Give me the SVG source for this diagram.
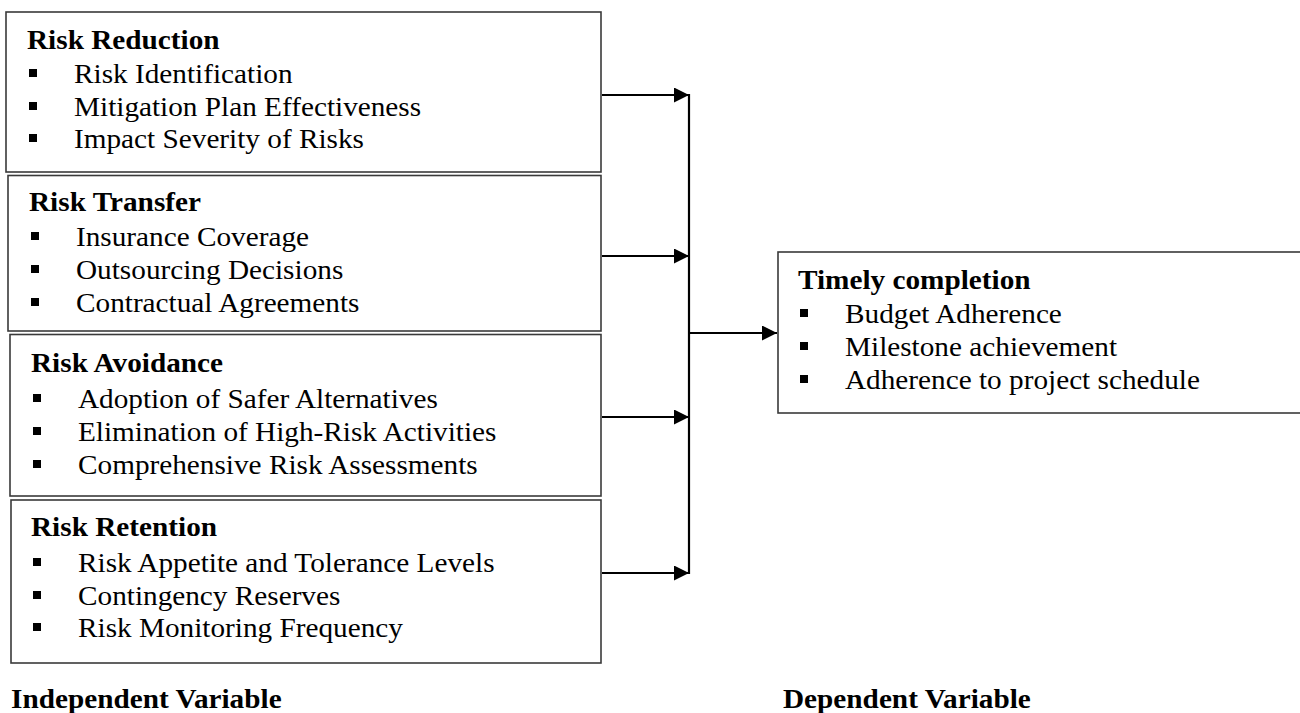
<svg xmlns="http://www.w3.org/2000/svg" width="1300" height="713" viewBox="0 0 1300 713">
<style>
.box{fill:#fff;stroke:#3a3a3a;stroke-width:1.6}
.t{font-family:"Liberation Serif","Times New Roman",serif;font-size:28px;fill:#000}
.b{font-weight:bold}
.sq{fill:#000}
.c{stroke:#000;stroke-width:2.2;fill:none}
</style>
<defs>
<marker id="ah" markerUnits="userSpaceOnUse" markerWidth="16" markerHeight="16" refX="15" refY="7.5" orient="auto">
<path d="M0,0 L15,7.5 L0,15 z" fill="#000"/>
</marker>
</defs>
<rect width="1300" height="713" fill="#fff"/>
<g id="connectors">
<line class="c" x1="602" y1="95" x2="689" y2="95" marker-end="url(#ah)"/>
<line class="c" x1="602" y1="256" x2="689" y2="256" marker-end="url(#ah)"/>
<line class="c" x1="602" y1="417" x2="689" y2="417" marker-end="url(#ah)"/>
<line class="c" x1="602" y1="573" x2="689" y2="573" marker-end="url(#ah)"/>
<line class="c" x1="689" y1="94" x2="689" y2="574"/>
<line class="c" x1="689" y1="333" x2="777" y2="333" marker-end="url(#ah)"/>
</g>
<g id="risk-reduction">
<rect class="box" x="6" y="12" width="595" height="160"/>
<text class="t b" transform="translate(27,49) scale(1.045,1)">Risk Reduction</text>
<rect class="sq" x="29" y="69" width="8" height="8"/>
<rect class="sq" x="29" y="102" width="8" height="8"/>
<rect class="sq" x="29" y="134" width="8" height="8"/>
<text class="t" transform="translate(74,83) scale(1.045,1)">Risk Identification</text>
<text class="t" transform="translate(74,116) scale(1.045,1)">Mitigation Plan Effectiveness</text>
<text class="t" transform="translate(74,148) scale(1.045,1)">Impact Severity of Risks</text>
</g>
<g id="risk-transfer">
<rect class="box" x="8" y="175.5" width="593" height="155.5"/>
<text class="t b" transform="translate(29,211) scale(1.045,1)">Risk Transfer</text>
<rect class="sq" x="31" y="232" width="8" height="8"/>
<rect class="sq" x="31" y="265" width="8" height="8"/>
<rect class="sq" x="31" y="298" width="8" height="8"/>
<text class="t" transform="translate(76,246) scale(1.045,1)">Insurance Coverage</text>
<text class="t" transform="translate(76,279) scale(1.045,1)">Outsourcing Decisions</text>
<text class="t" transform="translate(76,312) scale(1.045,1)">Contractual Agreements</text>
</g>
<g id="risk-avoidance">
<rect class="box" x="10" y="334.5" width="591" height="161.5"/>
<text class="t b" transform="translate(31,372) scale(1.045,1)">Risk Avoidance</text>
<rect class="sq" x="33" y="394" width="8" height="8"/>
<rect class="sq" x="33" y="427" width="8" height="8"/>
<rect class="sq" x="33" y="460" width="8" height="8"/>
<text class="t" transform="translate(78,408) scale(1.045,1)">Adoption of Safer Alternatives</text>
<text class="t" transform="translate(78,441) scale(1.045,1)">Elimination of High-Risk Activities</text>
<text class="t" transform="translate(78,474) scale(1.045,1)">Comprehensive Risk Assessments</text>
</g>
<g id="risk-retention">
<rect class="box" x="11" y="500" width="590" height="163"/>
<text class="t b" transform="translate(31,536) scale(1.045,1)">Risk Retention</text>
<rect class="sq" x="33" y="558" width="8" height="8"/>
<rect class="sq" x="33" y="591" width="8" height="8"/>
<rect class="sq" x="33" y="623" width="8" height="8"/>
<text class="t" transform="translate(78,572) scale(1.045,1)">Risk Appetite and Tolerance Levels</text>
<text class="t" transform="translate(78,605) scale(1.045,1)">Contingency Reserves</text>
<text class="t" transform="translate(78,637) scale(1.045,1)">Risk Monitoring Frequency</text>
</g>
<g id="timely-completion">
<rect class="box" x="778" y="252" width="530" height="161"/>
<text class="t b" transform="translate(798,289) scale(1.045,1)">Timely completion</text>
<rect class="sq" x="800" y="309" width="8" height="8"/>
<rect class="sq" x="800" y="342" width="8" height="8"/>
<rect class="sq" x="800" y="375" width="8" height="8"/>
<text class="t" transform="translate(845,323) scale(1.045,1)">Budget Adherence</text>
<text class="t" transform="translate(845,356) scale(1.045,1)">Milestone achievement</text>
<text class="t" transform="translate(845,389) scale(1.045,1)">Adherence to project schedule</text>
</g>
<g id="labels">
<text class="t b" transform="translate(11,708) scale(1.045,1)">Independent Variable</text>
<text class="t b" transform="translate(783,708) scale(1.045,1)">Dependent Variable</text>
</g>
</svg>
